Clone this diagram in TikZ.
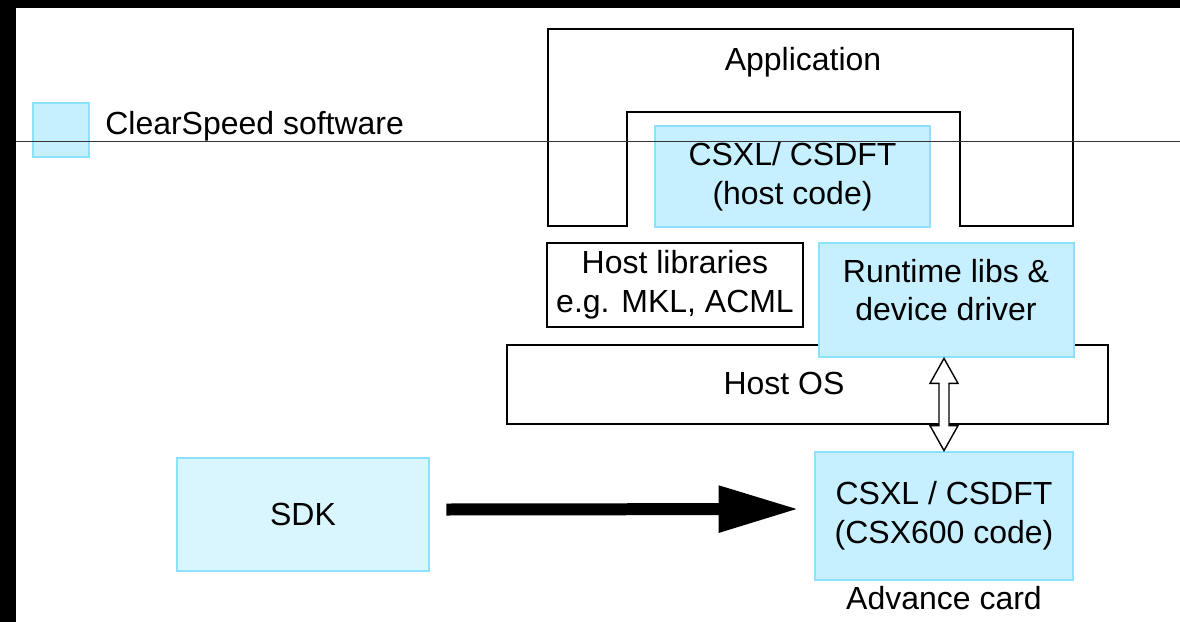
\documentclass[tikz,border=0pt]{standalone}
\usepackage{fontspec}
\setmainfont{Liberation Sans}
\usetikzlibrary{calc}
\usetikzlibrary{positioning}
\usetikzlibrary{arrows.meta}
\definecolor{csfill}{RGB}{198,240,255}
\definecolor{csline}{RGB}{140,226,252}
\definecolor{sdkfill}{RGB}{217,245,253}

\begin{document}
\begin{tikzpicture}[x=0.02cm,y=-0.02cm]
\tikzstyle{txt}=[align=center,font=\fontsize{18.2}{22}\selectfont,inner sep=0pt]
\tikzstyle{csbox}=[rectangle,align=center,draw=csline,fill=csfill,line width=1.6pt,font=\fontsize{18.2}{22}\selectfont]
\tikzstyle{sdkbox}=[csbox,fill=sdkfill]
\tikzstyle{plain}=[rectangle,align=center,draw,line width=0.9pt,fill=white,font=\fontsize{18.2}{22}\selectfont]
\useasboundingbox (0,0) rectangle (1180,622);
\fill[black] (0,0) rectangle (1180,8);
\fill[black] (0,0) rectangle (16,622);
\node[csbox,minimum width=1.12cm,minimum height=1.08cm] at (61,130) (key) {};
\node[txt,anchor=west] at (105,126) (keytext) {ClearSpeed software};
\draw[line width=0.9pt] (548,29) -- (1073,29) -- (1073,226) -- (960,226) -- (960,112)
  -- (627,112) -- (627,226) -- (548,226) -- cycle;
\node[txt] at (803,62) (app) {Application};
\node[csbox,minimum width=5.5cm,minimum height=2.02cm] at (792.5,176.5) (hostcode) {CSXL/ CSDFT\\(host code)};
\node[plain,minimum width=5.12cm,minimum height=1.68cm] at (675,285) (hostlib) {Host libraries\\e.g. MKL, ACML};
\node[plain,minimum width=12.02cm,minimum height=1.58cm] at (807.5,384.5) (hostos) {};
\node[txt] at (784,383) (hostostext) {Host OS};
\node[csbox,minimum width=5.1cm,minimum height=2.28cm] at (946.5,300) (runtime) {};
\node[txt] at (946,290) (runtimetext) {Runtime libs \&\\device driver};
\node[csbox,minimum width=5.16cm,minimum height=2.56cm] at (944,516) (card) {CSXL / CSDFT\\(CSX600 code)};
\node[txt] at (944,598) (cardtext) {Advance card};
\node[sdkbox,minimum width=5.04cm,minimum height=2.26cm] at (303,514.5) (sdk) {SDK};
\draw[line width=0.24cm,-{Triangle[length=1.6cm,width=0.88cm]}] ($(sdk.east)+(16,-5)$) -- ($(card.west)+(-15,-7)$);
\coordinate (up) at (runtime.south -| card.north);
\coordinate (dn) at (card.north);
\draw[line width=0.8pt,fill=white] (up) -- ++(14,25) -- ++(-9,0) -- ($(dn)+(5,-25)$) -- ++(9,0) -- (dn)
  -- ++(-14,-25) -- ++(9,0) -- ($(up)+(-5,25)$) -- ++(-9,0) -- cycle;
\draw[line width=0.5pt,black!80] (16,141) -- (1180,141);
\end{tikzpicture}
\end{document}
